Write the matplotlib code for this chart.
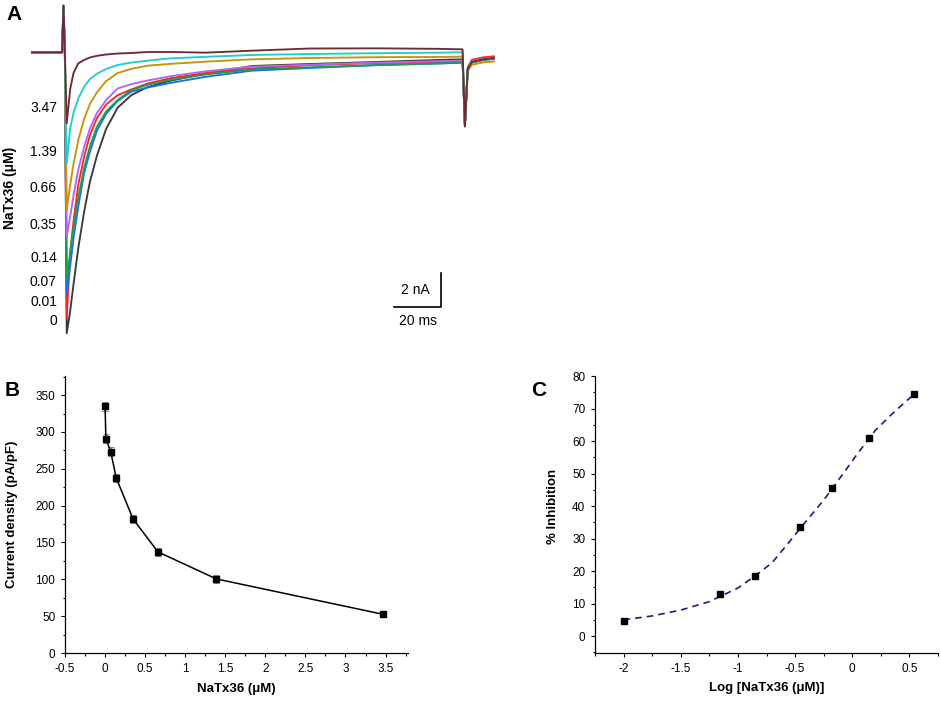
import numpy as np
import matplotlib
matplotlib.use("Agg")
import matplotlib.pyplot as plt
from matplotlib.ticker import MultipleLocator, FuncFormatter

plt.rcParams["font.family"] = ["Liberation Sans", "DejaVu Sans"]

# ---- panel A: current traces, time in ms, current in nA
T_MS = [0, 13.0, 13.6, 14.2, 15.0, 16.5, 18, 20, 22.5, 25, 28, 32, 37, 43, 50,
        60, 75, 95, 120, 150, 175, 186, 187, 188.2, 190, 195, 199.5]

I_0 = [0, 0, 2.8, 0, -16.86, -15.52, -13.84, -11.74, -9.58, -7.78, -6.22, -4.60,
       -3.32, -2.56, -2.08, -1.70, -1.27, -0.82, -0.70, -0.57, -0.46, -0.42,
       -4.4, -1.05, -0.6, -0.42, -0.36]
I_001 = [0, 0, 2.8, 0, -15.94, -12.0, -10.06, -7.94, -6.28, -4.98, -3.96, -3.13,
         -2.57, -2.22, -1.87, -1.55, -1.24, -0.96, -0.77, -0.64, -0.58, -0.56,
         -4.4, -0.9, -0.45, -0.3, -0.24]
I_007 = [0, 0, 2.8, 0, -14.56, -12.82, -11.08, -9.26, -7.24, -5.98, -4.72, -3.69,
         -2.92, -2.35, -2.11, -1.83, -1.47, -1.10, -0.94, -0.76, -0.67, -0.62,
         -4.4, -1.05, -0.6, -0.45, -0.38]
I_014 = [0, 0, 2.8, 0, -13.66, -11.98, -10.46, -8.73, -6.94, -5.66, -4.48, -3.55,
         -2.86, -2.26, -1.94, -1.65, -1.33, -1.02, -0.90, -0.76, -0.67, -0.62,
         -4.4, -1.05, -0.62, -0.47, -0.4]
I_035 = [0, 0, 2.8, 0, -11.06, -9.84, -8.55, -7.03, -5.70, -4.58, -3.65, -2.86,
         -2.17, -1.90, -1.69, -1.43, -1.14, -0.86, -0.74, -0.61, -0.53, -0.50,
         -4.4, -1.0, -0.55, -0.4, -0.32]
I_066 = [0, 0, 2.8, 0, -9.46, -7.96, -6.65, -5.26, -4.01, -3.10, -2.41, -1.73,
         -1.24, -0.99, -0.80, -0.69, -0.56, -0.42, -0.34, -0.29, -0.28, -0.26,
         -4.4, -1.15, -0.75, -0.6, -0.55]
I_139 = [0, 0, 2.8, 0, -6.66, -4.56, -3.59, -2.77, -2.07, -1.61, -1.29, -1.00,
         -0.76, -0.61, -0.50, -0.36, -0.27, -0.16, -0.10, -0.05, -0.02, 0.0,
         -4.4, -1.0, -0.58, -0.42, -0.34]
I_347 = [0, 0, 2.8, 0, -4.26, -2.20, -1.21, -0.66, -0.46, -0.31, -0.21, -0.13,
         -0.07, -0.04, 0.02, 0.02, -0.02, 0.10, 0.23, 0.24, 0.21, 0.18,
         -4.46, -1.0, -0.58, -0.42, -0.34]

TRACES = [I_0, I_001, I_007, I_014, I_035, I_066, I_139, I_347]
TRACE_COLORS = ["#3a3a3a", "#ff2424", "#1f6fe8", "#1e9e4a", "#b366f0",
                "#c8920c", "#22cccc", "#6e2b33"]
CONC_LABELS = ["0", "0.01", "0.07", "0.14", "0.35", "0.66", "1.39", "3.47"]
LABEL_Y_NA = [-16.12, -14.98, -13.78, -12.34, -10.36, -8.14, -5.98, -3.34]

# ---- panel B: current density vs concentration
CONC_UM = [0, 0.01, 0.07, 0.14, 0.35, 0.66, 1.39, 3.47]
DENSITY = [335, 290.7, 273.5, 237.3, 181.8, 137.2, 100.5, 52.5]
DENSITY_ERR = [6, 6.3, 5.5, 5, 5, 5, 5, 4]

# ---- panel C: inhibition vs log concentration, with dashed fit
LOG_CONC = np.log10(CONC_UM[1:])
INHIBITION = [4.6, 12.9, 18.6, 33.6, 45.5, 61.0, 74.4]
FIT_X = [-2, -1.75, -1.5, -1.25, -1.0, -0.85, -0.7, -0.55, -0.4, -0.25, -0.1,
         0.05, 0.2, 0.35, 0.54]
FIT_Y = [5.0, 6.2, 8.0, 10.6, 14.8, 18.5, 22.6, 29.0, 35.5, 41.8, 49.0,
         56.3, 63.2, 68.4, 74.4]


def fmt_num(v, pos):
    return f"{v:g}"


def style_axes(ax):
    ax.spines[["top", "right"]].set_visible(False)
    for s in ("left", "bottom"):
        ax.spines[s].set_linewidth(0.9)
    ax.tick_params(which="major", direction="out", length=3, width=0.8,
                   labelsize=8.5, pad=4)
    ax.tick_params(which="minor", direction="out", length=1.8, width=0.8)
    ax.xaxis.set_major_formatter(FuncFormatter(fmt_num))
    ax.yaxis.set_major_formatter(FuncFormatter(fmt_num))


def main():
    W, H = 941, 701
    fig = plt.figure(figsize=(W / 100, H / 100), dpi=100)

    # panel A
    ax_a = fig.add_axes([0, 1 - 340 / H, 500 / W, 340 / H])
    ax_a.set_xlim(-13.82, 202.16)
    ax_a.set_ylim(-17.26, 3.14)
    ax_a.axis("off")
    for i, (tr, col) in enumerate(zip(TRACES, TRACE_COLORS)):
        ax_a.plot(T_MS, tr, color=col, lw=1.35, zorder=2 + i,
                  solid_joinstyle="round")
    for lab, y in zip(CONC_LABELS, LABEL_Y_NA):
        ax_a.text(10.8, y, lab, ha="right", va="center", fontsize=10)
    ax_a.plot([156.5, 176.6, 176.6], [-15.26, -15.26, -13.26], color="k",
              lw=1.2)
    ax_a.text(165.8, -14.26, "2 nA", ha="center", va="center", fontsize=10)
    ax_a.text(166.7, -16.1, "20 ms", ha="center", va="center", fontsize=10)
    fig.text(10 / W, 1 - 188 / H, "NaTx36 (μM)", rotation=90, ha="center",
             va="center", fontweight="bold", fontsize=10)

    # panel B
    ax_b = fig.add_axes([65 / W, 48 / H, 343 / W, 277 / H])
    style_axes(ax_b)
    ax_b.errorbar(CONC_UM, DENSITY, yerr=DENSITY_ERR, fmt="none",
                  ecolor="#8c8c8c", elinewidth=0.8, capsize=2.2, capthick=0.8)
    ax_b.plot(CONC_UM, DENSITY, "-", color="k", lw=1.1)
    ax_b.plot(CONC_UM, DENSITY, "s", ms=4, color="k", clip_on=False)
    ax_b.set_xlim(-0.5, 3.78)
    ax_b.set_ylim(0, 376)
    ax_b.xaxis.set_major_locator(MultipleLocator(0.5))
    ax_b.xaxis.set_minor_locator(MultipleLocator(0.25))
    ax_b.yaxis.set_major_locator(MultipleLocator(50))
    ax_b.yaxis.set_minor_locator(MultipleLocator(25))
    ax_b.set_xlabel("NaTx36 (μM)", fontweight="bold", fontsize=9.5,
                    va="center")
    ax_b.set_ylabel("Current density (pA/pF)", fontweight="bold",
                    fontsize=9.5, va="center")
    ax_b.xaxis.set_label_coords(0.5, -0.131)
    ax_b.yaxis.set_label_coords(-0.1545, 0.5)

    # panel C
    ax_c = fig.add_axes([595 / W, 48 / H, 343 / W, 277 / H])
    style_axes(ax_c)
    ax_c.plot(FIT_X, FIT_Y, color="#1c1c80", lw=1.2, dashes=(4, 3))
    ax_c.plot(LOG_CONC, INHIBITION, "s", ms=4.5, color="k", clip_on=False)
    ax_c.set_xlim(-2.25, 0.75)
    ax_c.set_ylim(-5.2, 80)
    ax_c.xaxis.set_major_locator(MultipleLocator(0.5))
    ax_c.xaxis.set_minor_locator(MultipleLocator(0.25))
    ax_c.yaxis.set_major_locator(MultipleLocator(10))
    ax_c.yaxis.set_minor_locator(MultipleLocator(5))
    ax_c.set_xlabel("Log [NaTx36 (μM)]", fontweight="bold", fontsize=9.5,
                    va="center")
    ax_c.set_ylabel("% Inhibition", fontweight="bold", fontsize=9.5,
                    va="center")
    ax_c.xaxis.set_label_coords(0.5, -0.128)
    ax_c.yaxis.set_label_coords(-0.1216, 0.528)

    for letter, x, y in (("A", 6, 14), ("B", 5, 391), ("C", 531, 391)):
        fig.text(x / W, 1 - y / H, letter, fontsize=15, fontweight="bold",
                 ha="left", va="center")

    fig.savefig("out.png", dpi=100)
    plt.close(fig)


if __name__ == "__main__":
    main()
